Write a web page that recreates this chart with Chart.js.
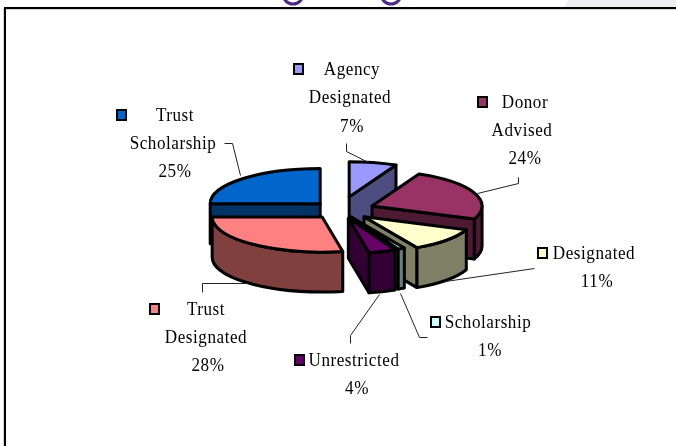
<!DOCTYPE html>
<html>
<head>
<meta charset="utf-8">
<title>Fund types</title>
<script src="https://cdn.jsdelivr.net/npm/chart.js@4"></script>
<style>
  html, body { margin: 0; padding: 0; background: #fff; }
  #wrap { position: relative; width: 676px; height: 446px; overflow: hidden; }
</style>
</head>
<body>
<div id="wrap"><canvas id="fundChart" width="676" height="446"></canvas></div>
<script>
// data
const categories = ['Agency Designated', 'Donor Advised', 'Designated', 'Scholarship', 'Unrestricted', 'Trust Designated', 'Trust Scholarship'];
const shares = [7, 24, 11, 1, 4, 28, 25];

// styles
const topColors = ['#9999FF', '#993366', '#FFFFCC', '#CCFFFF', '#660066', '#FF8080', '#0066CC'];
const sideColors = ['#4D4D80', '#4D1A33', '#808066', '#668080', '#330033', '#804040', '#003366'];
const sliceOffsets = [168, 138, 128, 100, 108, 112, 112]; // Chart.js moves an arc by offset / 4
const drawOrder = [6, 0, 1, 2, 5, 3, 4]; // back to front

const SQUASH = 0.32;  // y scale of the tilted pie
const DEPTH = 40;     // wall height in px
const FONT = '19px "Liberation Serif"';
const TEXT_WIDTH = 0.9; // the original text is narrow and tall

// label placement, one entry per category: [text, centre x, baseline y]
const labelLines = [
  [['Agency', 352, 75], ['Designated', 350, 103], [null, 352, 132]],
  [['Donor', 525, 108], ['Advised', 522, 136], [null, 525, 164]],
  [['Designated', 594, 259], [null, 597, 287]],
  [['Scholarship', 488, 328], [null, 490, 356]],
  [['Unrestricted', 354, 366], [null, 357, 394]],
  [['Trust', 206, 315], ['Designated', 206, 343], [null, 208, 371]],
  [['Trust', 175, 121], ['Scholarship', 173, 149], [null, 175, 177]]
];
const keyBoxes = [[298, 69], [482, 102], [542, 253], [435, 322], [299, 360], [154, 309], [121, 115]];
const leaders = [
  [[346, 143], [346, 151], [368, 162]],
  [[518, 177], [518, 183], [477, 193]],
  [[534, 268], [445, 281]],
  [[427, 337], [419, 337], [400, 293]],
  [[350, 343], [350, 335], [379, 294]],
  [[202, 292], [202, 283], [248, 283]],
  [[224, 143], [232, 143], [240, 175]]
];

// the slide edge and bits of the slide showing above it
function drawBackdrop(ctx) {
  ctx.save();
  ctx.fillStyle = '#EFECF3';
  ctx.beginPath();
  ctx.moveTo(568, 0); ctx.lineTo(676, 0); ctx.lineTo(676, 7); ctx.lineTo(565, 7);
  ctx.closePath();
  ctx.fill();

  ctx.strokeStyle = '#4B2A7F';
  ctx.lineWidth = 3;
  [293, 391].forEach(x => {
    ctx.beginPath();
    ctx.arc(x, -6, 10, 0, Math.PI);
    ctx.stroke();
  });

  ctx.fillStyle = '#D8D8D8';
  ctx.fillRect(4, 9, 672, 1);
  ctx.fillRect(3, 8, 1, 438);
  ctx.fillStyle = '#000';
  ctx.fillRect(4, 7, 672, 2);
  ctx.fillRect(4, 7, 2, 439);
  ctx.restore();
}

// one slice: front walls, outer wall, then the tilted top face
function drawSlice(ctx, arc, i) {
  const { x, y, startAngle, endAngle, outerRadius } = arc.getProps(['x', 'y', 'startAngle', 'endAngle', 'outerRadius']);
  const mid = (startAngle + endAngle) / 2;
  const off = arc.options.offset / 4;
  const ax = x + Math.cos(mid) * off;
  const ay = y + Math.sin(mid) * off * SQUASH;
  const rx = outerRadius;
  const ry = outerRadius * SQUASH;
  const edge = a => [ax + Math.cos(a) * rx, ay + Math.sin(a) * ry];

  ctx.save();
  ctx.lineWidth = 3;
  ctx.lineJoin = 'round';
  ctx.strokeStyle = '#000';
  ctx.fillStyle = sideColors[i];

  const cutFace = a => {
    const p = edge(a);
    ctx.beginPath();
    ctx.moveTo(ax, ay);
    ctx.lineTo(p[0], p[1]);
    ctx.lineTo(p[0], p[1] + DEPTH);
    ctx.lineTo(ax, ay + DEPTH);
    ctx.closePath();
    ctx.fill();
    ctx.stroke();
  };
  if (Math.cos(startAngle) < -1e-6) cutFace(startAngle);
  if (Math.cos(endAngle) > 1e-6) cutFace(endAngle);

  // outer wall, only the part facing the viewer
  const a0 = Math.max(startAngle, 0);
  const a1 = Math.min(endAngle, Math.PI);
  if (a1 > a0) {
    ctx.beginPath();
    ctx.ellipse(ax, ay, rx, ry, 0, a0, a1);
    ctx.ellipse(ax, ay + DEPTH, rx, ry, 0, a1, a0, true);
    ctx.closePath();
    ctx.fill();
    ctx.stroke();
  }

  // top face, same angles as the library's arc element
  ctx.fillStyle = arc.options.backgroundColor;
  ctx.beginPath();
  ctx.moveTo(ax, ay);
  ctx.ellipse(ax, ay, rx, ry, 0, startAngle, endAngle);
  ctx.closePath();
  ctx.fill();
  ctx.stroke();
  ctx.restore();
}

function drawLabels(ctx) {
  ctx.save();
  ctx.font = FONT;
  ctx.letterSpacing = '0.6px';
  ctx.textAlign = 'center';
  ctx.textBaseline = 'alphabetic';
  categories.forEach((name, i) => {
    ctx.strokeStyle = '#222';
    ctx.lineWidth = 1;
    ctx.beginPath();
    leaders[i].forEach((p, n) => n ? ctx.lineTo(p[0] + 0.5, p[1] + 0.5) : ctx.moveTo(p[0] + 0.5, p[1] + 0.5));
    ctx.stroke();

    const box = keyBoxes[i];
    ctx.fillStyle = topColors[i];
    ctx.strokeStyle = '#000';
    ctx.lineWidth = 2;
    ctx.fillRect(box[0] - 4, box[1] - 5, 9, 10);
    ctx.strokeRect(box[0] - 4, box[1] - 5, 9, 10);

    ctx.fillStyle = '#000';
    labelLines[i].forEach(line => {
      ctx.save();
      ctx.translate(line[1], line[2]);
      ctx.scale(TEXT_WIDTH, 1);
      ctx.fillText(line[0] === null ? shares[i] + '%' : line[0], 0, 0);
      ctx.restore();
    });
  });
  ctx.restore();
}

const pie3d = {
  id: 'pie3d',
  beforeDraw(chart) {
    drawBackdrop(chart.ctx);
  },
  // slices are painted here in depth order, so the default pass is skipped
  beforeDatasetsDraw(chart) {
    const arcs = chart.getDatasetMeta(0).data;
    drawOrder.forEach(i => drawSlice(chart.ctx, arcs[i], i));
    return false;
  },
  afterDraw(chart) {
    drawLabels(chart.ctx);
  }
};

new Chart(document.getElementById('fundChart'), {
  type: 'pie',
  data: {
    labels: categories,
    datasets: [{
      data: shares,
      backgroundColor: topColors,
      borderWidth: 0,
      offset: sliceOffsets
    }]
  },
  options: {
    responsive: false,
    animation: false,
    radius: 110,
    layout: { padding: { left: 4, bottom: 26 } },
    plugins: { legend: { display: false }, tooltip: { enabled: false } }
  },
  plugins: [pie3d]
});
</script>
</body>
</html>
